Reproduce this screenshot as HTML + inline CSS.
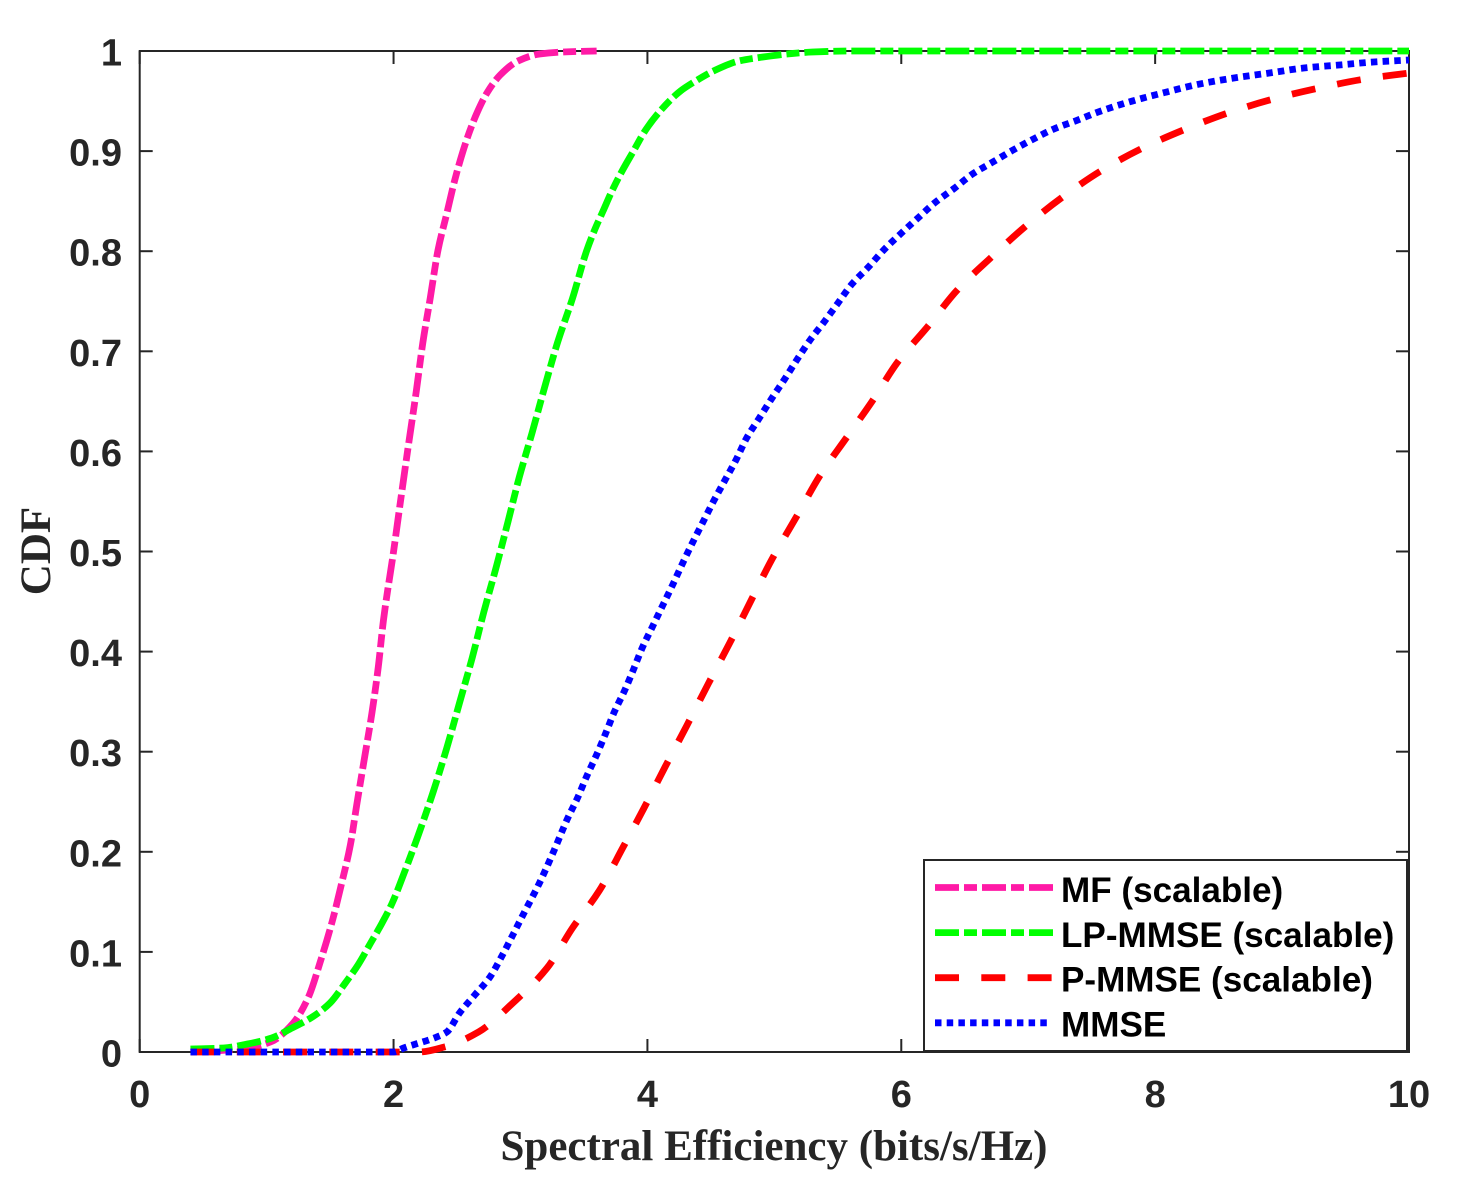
<!DOCTYPE html>
<html>
<head>
<meta charset="utf-8">
<title>CDF of Spectral Efficiency</title>
<style>
html,body{margin:0;padding:0;background:#fff;}
#chart{display:block;width:1458px;height:1200px;}
text{fill:#262626;}
.tick-label{font-family:"Liberation Sans",sans-serif;font-weight:bold;font-size:38px;}
.axis-title{font-family:"Liberation Serif",serif;font-weight:bold;font-size:43px;}
.legend-label{font-family:"Liberation Sans",sans-serif;font-weight:bold;font-size:35.1px;fill:#000;}
</style>
</head>
<body>
<svg id="chart" xmlns="http://www.w3.org/2000/svg" width="1458" height="1200" viewBox="0 0 1458 1200"></svg>
<script>
const xTickValues = [0, 2, 4, 6, 8, 10];
const xTickLabels = ['0', '2', '4', '6', '8', '10'];
const yTickValues = [0, 0.1, 0.2, 0.3, 0.4, 0.5, 0.6, 0.7, 0.8, 0.9, 1];
const yTickLabels = ['0', '0.1', '0.2', '0.3', '0.4', '0.5', '0.6', '0.7', '0.8', '0.9', '1'];

const mfX = [0.40,0.80,1.03,1.21,1.33,1.42,1.52,1.59,1.66,1.71,1.77,1.83,1.88,1.92,2.00,2.05,2.11,2.18,2.23,2.29,2.35,2.42,2.48,2.54,2.60,2.66,2.74,2.84,2.98,3.15,3.33,3.60];
const mfY = [0,0.003,0.010,0.029,0.055,0.089,0.132,0.168,0.207,0.247,0.293,0.339,0.385,0.431,0.500,0.546,0.600,0.661,0.708,0.754,0.801,0.838,0.870,0.897,0.920,0.939,0.959,0.976,0.990,0.997,0.999,1];

const lpX = [0.40,0.66,0.85,1.04,1.20,1.36,1.50,1.62,1.72,1.82,1.91,1.99,2.09,2.19,2.31,2.42,2.52,2.62,2.71,2.81,2.90,2.99,3.09,3.19,3.29,3.41,3.52,3.58,3.65,3.72,3.80,3.89,3.98,4.10,4.26,4.38,4.52,4.72,4.91,5.10,5.30,5.62,10];
const lpY = [0.003,0.004,0.008,0.014,0.024,0.035,0.049,0.069,0.087,0.109,0.129,0.149,0.181,0.215,0.259,0.304,0.349,0.394,0.439,0.485,0.529,0.574,0.618,0.664,0.708,0.753,0.800,0.820,0.840,0.860,0.880,0.900,0.920,0.940,0.960,0.970,0.980,0.990,0.994,0.997,0.999,1,1];

const pmX = [0.40,2.20,2.40,2.67,2.94,3.21,3.41,3.62,3.81,3.97,4.14,4.31,4.48,4.65,4.82,4.98,5.18,5.36,5.57,5.77,5.97,6.21,6.44,6.71,6.98,7.27,7.57,7.90,8.24,8.57,8.93,9.29,9.65,10];
const pmY = [0,0,0.005,0.020,0.049,0.084,0.124,0.161,0.205,0.243,0.285,0.326,0.368,0.409,0.452,0.492,0.536,0.576,0.614,0.650,0.689,0.725,0.761,0.794,0.825,0.854,0.880,0.903,0.922,0.938,0.952,0.963,0.972,0.978];

const mmX = [0.40,2.00,2.08,2.34,2.42,2.52,2.64,2.76,2.85,2.94,3.02,3.15,3.26,3.37,3.45,3.52,3.60,3.67,3.74,3.82,3.89,3.96,4.04,4.12,4.20,4.28,4.36,4.44,4.52,4.61,4.70,4.78,4.88,4.98,5.08,5.18,5.28,5.39,5.50,5.61,5.74,5.86,6.00,6.13,6.27,6.42,6.56,6.72,6.88,7.04,7.20,7.39,7.55,7.82,8.09,8.35,8.62,8.90,9.17,9.45,9.72,10];
const mmY = [0,0,0.004,0.015,0.020,0.039,0.057,0.075,0.095,0.117,0.137,0.169,0.200,0.233,0.254,0.275,0.297,0.318,0.340,0.361,0.382,0.404,0.425,0.446,0.467,0.489,0.510,0.530,0.550,0.571,0.592,0.613,0.633,0.653,0.672,0.692,0.711,0.729,0.748,0.767,0.784,0.801,0.818,0.833,0.849,0.863,0.877,0.889,0.901,0.912,0.922,0.931,0.939,0.950,0.959,0.967,0.973,0.978,0.983,0.986,0.989,0.991];

const seriesLabels = ['MF (scalable)', 'LP-MMSE (scalable)', 'P-MMSE (scalable)', 'MMSE'];

const svg = document.getElementById('chart');
const NS = 'http://www.w3.org/2000/svg';

function xScale(v) { return 139.7 + 126.93 * v; }
function yScale(v) { return 1052 - 1001 * v; }

function make(tag, attrs, parent) {
  const el = document.createElementNS(NS, tag);
  for (const k in attrs) el.setAttribute(k, attrs[k]);
  (parent || svg).appendChild(el);
  return el;
}

const AXIS = '#262626';
const xL = xScale(0), xR = xScale(10), yT = yScale(1), yB = yScale(0);

/* axes box */
const box = make('rect', {x: xL, y: yT, width: xR - xL, height: yB - yT, fill: '#fff', stroke: AXIS, 'stroke-width': 2});



/* ticks */
xTickValues.forEach(function (v, i) {
  const px = xScale(v);
  const t1 = make('line', {x1: px, x2: px, y1: yB, y2: yB - 13, stroke: AXIS, 'stroke-width': 2});
  
  
  const t2 = make('line', {x1: px, x2: px, y1: yT, y2: yT + 13, stroke: AXIS, 'stroke-width': 2});
  
  
  const lab = make('text', {x: px, y: 1107, 'text-anchor': 'middle', 'class': 'tick-label'});
  lab.textContent = xTickLabels[i];
  
  
});
yTickValues.forEach(function (v, i) {
  const py = yScale(v);
  const t1 = make('line', {x1: xL, x2: xL + 13, y1: py, y2: py, stroke: AXIS, 'stroke-width': 2});
  
  
  const t2 = make('line', {x1: xR, x2: xR - 13, y1: py, y2: py, stroke: AXIS, 'stroke-width': 2});
  
  
  const lab = make('text', {x: 122, y: py + 14.5, 'text-anchor': 'end', 'class': 'tick-label'});
  lab.textContent = yTickLabels[i];
  
  
});

/* axis titles */
const xTitle = make('text', {x: 774, y: 1160, 'text-anchor': 'middle', 'class': 'axis-title'});
xTitle.textContent = 'Spectral Efficiency (bits/s/Hz)';



const yTitle = make('text', {x: 0, y: 0, 'text-anchor': 'middle', 'class': 'axis-title', transform: 'translate(50,551) rotate(-90)'});
yTitle.textContent = 'CDF';



/* series: monotone cubic through the read values */
function linePath(xs, ys) {
  const n = xs.length;
  const px = xs.map(xScale), py = ys.map(yScale);
  const slope = [];
  for (let i = 0; i < n - 1; i++) slope.push((py[i + 1] - py[i]) / (px[i + 1] - px[i]));
  const tan = [slope[0]];
  for (let i = 1; i < n - 1; i++) {
    if (slope[i - 1] * slope[i] <= 0) { tan.push(0); continue; }
    const h0 = px[i] - px[i - 1], h1 = px[i + 1] - px[i];
    const w1 = 2 * h1 + h0, w2 = h1 + 2 * h0;
    tan.push((w1 + w2) / (w1 / slope[i - 1] + w2 / slope[i]));
  }
  tan.push(slope[n - 2]);
  let d = 'M' + px[0].toFixed(2) + ' ' + py[0].toFixed(2);
  for (let i = 0; i < n - 1; i++) {
    const h = (px[i + 1] - px[i]) / 3;
    d += ' C' + (px[i] + h).toFixed(2) + ' ' + (py[i] + tan[i] * h).toFixed(2) + ' ' +
         (px[i + 1] - h).toFixed(2) + ' ' + (py[i + 1] - tan[i + 1] * h).toFixed(2) + ' ' +
         px[i + 1].toFixed(2) + ' ' + py[i + 1].toFixed(2);
  }
  return d;
}

const MF_COLOR = '#ff1aa6', LP_COLOR = '#00ff00', PM_COLOR = '#ff0000', MM_COLOR = '#0000ff';
const DASHDOT = '24 5 13 5', DASHED = '24 22.3', DOTTED = '6.5 5.2';

const mfLine = make('path', {d: linePath(mfX, mfY), fill: 'none', stroke: MF_COLOR, 'stroke-width': 6.8, 'stroke-dasharray': DASHDOT, 'stroke-linejoin': 'round'});



const lpLine = make('path', {d: linePath(lpX, lpY), fill: 'none', stroke: LP_COLOR, 'stroke-width': 6.8, 'stroke-dasharray': DASHDOT, 'stroke-linejoin': 'round'});



const pmLine = make('path', {d: linePath(pmX, pmY), fill: 'none', stroke: PM_COLOR, 'stroke-width': 6.8, 'stroke-dasharray': DASHED, 'stroke-linejoin': 'round'});



const mmLine = make('path', {d: linePath(mmX, mmY), fill: 'none', stroke: MM_COLOR, 'stroke-width': 6.8, 'stroke-dasharray': DOTTED, 'stroke-linejoin': 'round'});



/* legend */
const legend = make('g', {});



const legendBox = make('rect', {x: 924, y: 860, width: 483, height: 191, fill: '#fff', stroke: AXIS, 'stroke-width': 2}, legend);



const legendColors = [MF_COLOR, LP_COLOR, PM_COLOR, MM_COLOR];
const legendDashes = [DASHDOT, DASHDOT, DASHED, DOTTED];
const legendEnds = [1053, 1053, 1053, 1048];
seriesLabels.forEach(function (name, i) {
  const rowY = 887.5 + 45.1 * i;
  const sample = make('line', {x1: 935, x2: legendEnds[i], y1: rowY, y2: rowY, stroke: legendColors[i], 'stroke-width': 6.8, 'stroke-dasharray': legendDashes[i]}, legend);
  
  
  const label = make('text', {x: 1061, y: 902 + 44.8 * i, 'class': 'legend-label'}, legend);
  label.textContent = name;
  
  
});
</script>
</body>
</html>
